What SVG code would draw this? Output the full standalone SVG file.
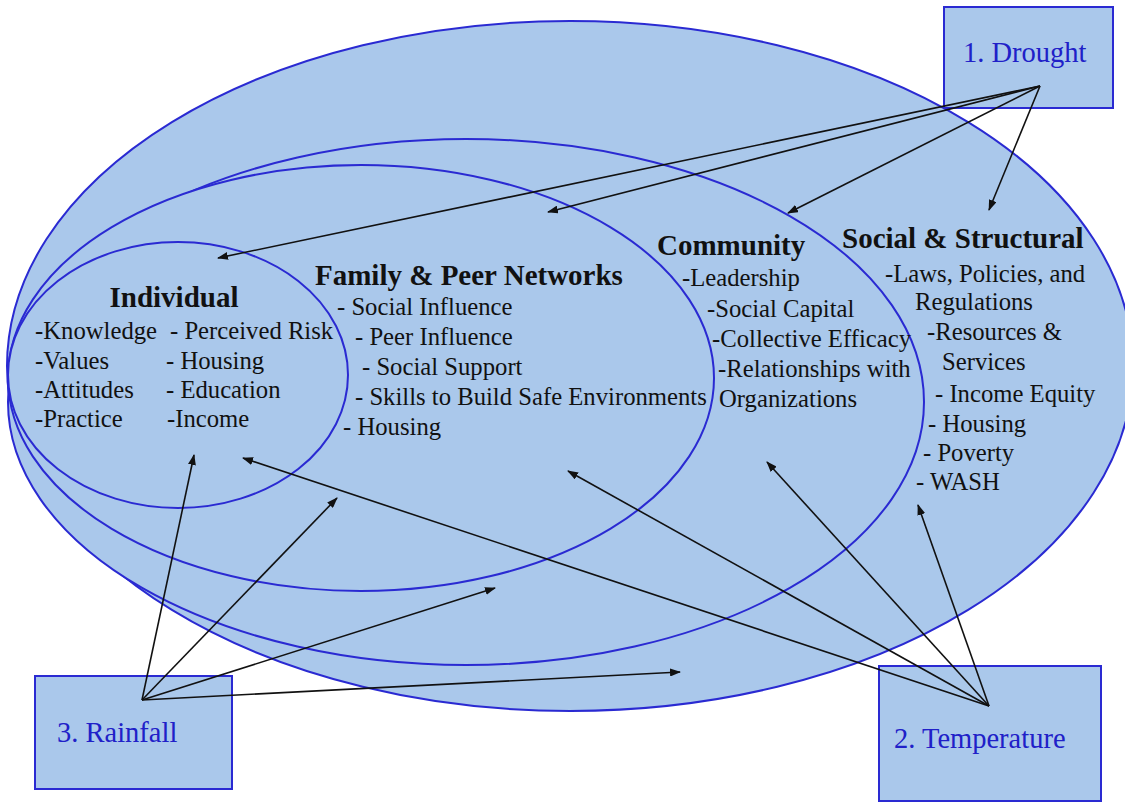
<svg xmlns="http://www.w3.org/2000/svg" width="1125" height="802" viewBox="0 0 1125 802">
<defs>
<marker id="ah" markerUnits="userSpaceOnUse" markerWidth="11" markerHeight="8" refX="10" refY="4" orient="auto">
<path d="M0,0 L11,4 L0,8 Z" fill="#111"/>
</marker>
<style>
.ell{fill:#aac8eb;stroke:#2a2ad2;stroke-width:2}
.box{fill:#aac8eb;stroke:#2a2ad2;stroke-width:2}
.blabel{font-family:"Liberation Serif","Times New Roman",serif;font-size:28.5px;fill:#2020c8}
.head{font-family:"Liberation Serif","Times New Roman",serif;font-size:29px;font-weight:bold;fill:#111}
.item{font-family:"Liberation Serif","Times New Roman",serif;font-size:24.7px;fill:#111}
.conn line{stroke:#111;stroke-width:1.6;marker-end:url(#ah)}
</style>
</defs>
<rect width="1125" height="802" fill="#fff"/>
<g id="social-structural">
<ellipse class="ell" cx="570" cy="366" rx="563" ry="345"/>
<text class="head" x="842" y="248">Social &amp; Structural</text>
<text class="item" x="885" y="282">-Laws, Policies, and</text>
<text class="item" x="915" y="310">Regulations</text>
<text class="item" x="927" y="340">-Resources &amp;</text>
<text class="item" x="942" y="370">Services</text>
<text class="item" x="935" y="402">- Income Equity</text>
<text class="item" x="928" y="432">- Housing</text>
<text class="item" x="923" y="461">- Poverty</text>
<text class="item" x="916" y="490">- WASH</text>
</g>
<g id="community">
<ellipse class="ell" cx="466" cy="402" rx="458" ry="263"/>
<text class="head" x="657" y="255">Community</text>
<text class="item" x="682" y="286">-Leadership</text>
<text class="item" x="707" y="317">-Social Capital</text>
<text class="item" x="712" y="347">-Collective Efficacy</text>
<text class="item" x="718" y="377">-Relationships with</text>
<text class="item" x="719" y="407">Organizations</text>
</g>
<g id="family">
<ellipse class="ell" cx="361" cy="378" rx="353" ry="213"/>
<text class="head" x="315" y="285">Family &amp; Peer Networks</text>
<text class="item" x="337" y="315">- Social Influence</text>
<text class="item" x="355" y="345">- Peer Influence</text>
<text class="item" x="362" y="375">- Social Support</text>
<text class="item" x="355" y="405">- Skills to Build Safe Environments</text>
<text class="item" x="343" y="435">- Housing</text>
</g>
<g id="individual">
<ellipse class="ell" cx="178" cy="375" rx="170" ry="133"/>
<text class="head" x="174" y="307" text-anchor="middle">Individual</text>
<text class="item" x="35" y="339">-Knowledge</text>
<text class="item" x="35" y="369">-Values</text>
<text class="item" x="35" y="398">-Attitudes</text>
<text class="item" x="35" y="427">-Practice</text>
<text class="item" x="170" y="339">- Perceived Risk</text>
<text class="item" x="166" y="369">- Housing</text>
<text class="item" x="166" y="398">- Education</text>
<text class="item" x="167" y="427">-Income</text>
</g>
<g id="drought">
<rect class="box" x="944" y="7" width="169" height="101"/>
<text class="blabel" x="963" y="62">1. Drought</text>
</g>
<g id="rainfall">
<rect class="box" x="35" y="676" width="197" height="113"/>
<text class="blabel" x="57" y="742">3. Rainfall</text>
</g>
<g id="temperature">
<rect class="box" x="879" y="666" width="222" height="135"/>
<text class="blabel" x="894" y="748">2. Temperature</text>
</g>
<g id="connectors" class="conn">
<line x1="1040" y1="86" x2="218" y2="258"/>
<line x1="1040" y1="86" x2="548" y2="212"/>
<line x1="1040" y1="86" x2="788" y2="213"/>
<line x1="1040" y1="86" x2="989" y2="210"/>
<line x1="142" y1="700" x2="194" y2="455"/>
<line x1="142" y1="700" x2="337" y2="498"/>
<line x1="142" y1="700" x2="495" y2="588"/>
<line x1="142" y1="700" x2="680" y2="672"/>
<line x1="989" y1="706" x2="243" y2="458"/>
<line x1="989" y1="706" x2="568" y2="471"/>
<line x1="989" y1="706" x2="767" y2="462"/>
<line x1="989" y1="706" x2="918" y2="505"/>
</g>
</svg>
